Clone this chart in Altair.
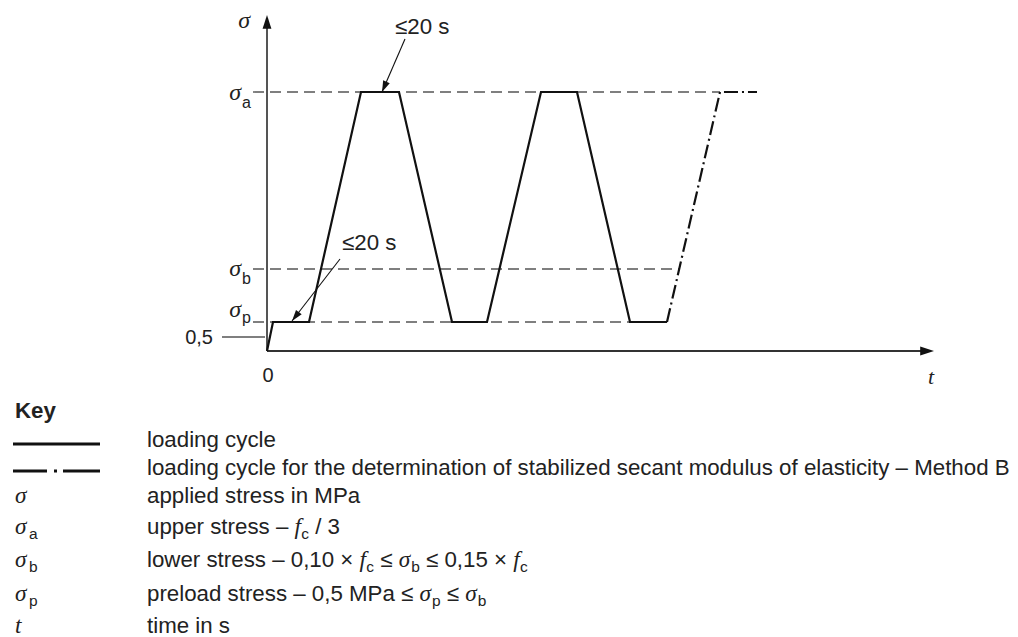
import math
import altair as alt
import pandas as pd

# ---------------- diagram values (schematic units: time t, stress s) ----------------
SIGMA_A = 25.9
SIGMA_B = 8.2
SIGMA_P = 2.9
HALF_MPA = 1.4

cycle_t = [0.0, 0.6, 4.2, 9.4, 13.2, 18.5, 22.0, 27.4, 31.0, 36.3, 40.0]
cycle_s = [0.0, SIGMA_P, SIGMA_P, SIGMA_A, SIGMA_A, SIGMA_P, SIGMA_P,
           SIGMA_A, SIGMA_A, SIGMA_P, SIGMA_P]
methodB_t = [40.0, 45.3, 49.0]
methodB_s = [SIGMA_P, SIGMA_A, SIGMA_A]

level_names = ["a", "b", "p"]
level_s = [SIGMA_A, SIGMA_B, SIGMA_P]
level_end_t = [45.3, 41.2, 36.3]
level_start_t = -1.4

half_tick_t = [-4.5, -0.2]
axis_t_end = 66.7
axis_s_end = 33.6

ann_labels = ["≤20 s", "≤20 s"]
ann_tail_t = [13.8, 7.3]
ann_tail_s = [31.2, 9.2]
ann_tip_t = [11.5, 2.5]
ann_tip_s = [SIGMA_A, 3.0]

# ---------------- key texts ----------------
key_title = "Key"
key_symbols = [None, None, ("σ", ""), ("σ", "a"), ("σ", "b"), ("σ", "p"), ("t", "")]
key_desc = [
    [("loading cycle", "n")],
    [("loading cycle for the determination of stabilized secant modulus of elasticity – Method B", "n")],
    [("applied stress in MPa", "n")],
    [("upper stress – ", "n"), ("f", "i"), ("c", "s"), (" / 3", "n")],
    [("lower stress – 0,10 × ", "n"), ("f", "i"), ("c", "s"), (" ≤ ", "n"), ("σ", "i"), ("b", "s"),
     (" ≤ 0,15 × ", "n"), ("f", "i"), ("c", "s")],
    [("preload stress – 0,5 MPa ≤ ", "n"), ("σ", "i"), ("p", "s"), (" ≤ ", "n"), ("σ", "i"), ("b", "s")],
    [("time in s", "n")],
]

# ---------------- layout / style ----------------
W = 1002
H1 = 387
H2 = 234
X_DOM = [-25.9, 74.3]
Y_DOM = [-4.6, 34.1]
SANS = "Liberation Sans"
SERIF = "Liberation Serif"
INK = "#111111"
GREY = "#555555"
TXT = "#222222"
F = 22.3
FS = 15.5
KEY_TOP = 395
ROW_CENTERS = [c - KEY_TOP for c in [438, 466, 494, 525, 558, 592, 624]]
TITLE_BASE = 416 - KEY_TOP
TXT_X = 139
SYM_X = 7
ARROW = "M0,0L-0.32,1L0.32,1Z"

xs = alt.Scale(domain=X_DOM, nice=False, zero=False)
ys = alt.Scale(domain=Y_DOM, nice=False, zero=False)


def X(f):
    return alt.X(f, type="quantitative", scale=xs, axis=None)


def Y(f):
    return alt.Y(f, type="quantitative", scale=ys, axis=None)


def heading(vx, vy):
    return (math.degrees(math.atan2(vx, -vy)) + 360) % 360


# reference dashed lines
ref_df = pd.DataFrame({"name": level_names, "s": level_s,
                       "t0": [level_start_t] * 3, "t1": level_end_t})
refs = alt.Chart(ref_df).mark_rule(color=GREY, strokeWidth=1.4, strokeDash=[11, 6]).encode(
    x=X("t0"), x2="t1", y=Y("s"))

tick_df = pd.DataFrame({"t0": [half_tick_t[0]], "t1": [half_tick_t[1]], "s": [HALF_MPA]})
tick = alt.Chart(tick_df).mark_rule(color=GREY, strokeWidth=1.4).encode(x=X("t0"), x2="t1", y=Y("s"))

# axes
yax_df = pd.DataFrame({"t": [0.0], "s0": [0.0], "s1": [axis_s_end - 1.2]})
yax = alt.Chart(yax_df).mark_rule(color=GREY, strokeWidth=2).encode(x=X("t"), y=Y("s0"), y2="s1")
xax_df = pd.DataFrame({"s": [0.0], "t0": [0.0], "t1": [axis_t_end - 1.2]})
xax = alt.Chart(xax_df).mark_rule(color="#333333", strokeWidth=2).encode(x=X("t0"), x2="t1", y=Y("s"))

# loading cycle
cyc_df = pd.DataFrame({"t": cycle_t, "s": cycle_s, "o": range(len(cycle_t))})
cyc = alt.Chart(cyc_df).mark_line(color=INK, strokeWidth=2.2).encode(
    x=X("t"), y=Y("s"), order="o:Q")
mb_df = pd.DataFrame({"t": methodB_t, "s": methodB_s, "o": range(len(methodB_t))})
mb = alt.Chart(mb_df).mark_line(color=INK, strokeWidth=2.2, strokeDash=[14, 4, 2, 4]).encode(
    x=X("t"), y=Y("s"), order="o:Q")

# annotation arrows
ann_df = pd.DataFrame({"lab": ann_labels, "t0": ann_tail_t, "s0": ann_tail_s,
                       "t1": ann_tip_t, "s1": ann_tip_s})
ann = alt.Chart(ann_df).mark_rule(color=INK, strokeWidth=1.1).encode(
    x=X("t0"), y=Y("s0"), x2="t1", y2="s1")

heads = []
for a, b, c, d in zip(ann_tail_t, ann_tail_s, ann_tip_t, ann_tip_s):
    heads.append({"t": c, "s": d, "ang": heading((c - a) * 10, -(d - b) * 10), "sz": 500})
heads.append({"t": 0.0, "s": axis_s_end, "ang": 0.0, "sz": 760})
heads.append({"t": axis_t_end, "s": 0.0, "ang": 90.0, "sz": 760})
head_df = pd.DataFrame(heads)
headm = alt.Chart(head_df).mark_point(shape=ARROW, filled=True, color=INK, opacity=1, strokeWidth=0).encode(
    x=X("t"), y=Y("s"), angle=alt.Angle("ang:Q", scale=None), size=alt.Size("sz:Q", scale=None))

ann_txt = alt.Chart(ann_df.iloc[[0]]).mark_text(font=SANS, fontSize=F, align="left", baseline="alphabetic",
                                                dx=-10, dy=-5, color=TXT).encode(
    x=X("t0"), y=Y("s0"), text="lab:N")
ann_txt2 = alt.Chart(ann_df.iloc[[1]]).mark_text(font=SANS, fontSize=F, align="left", baseline="alphabetic",
                                                 dx=2, dy=-9, color=TXT).encode(
    x=X("t0"), y=Y("s0"), text="lab:N")

# level labels
sig_dy = {"a": 8, "b": 7, "p": -5}
sub_dy = {"a": 16, "b": 15, "p": 1}
lab_layers = []
for n, s in zip(level_names, level_s):
    d = pd.DataFrame({"t": [level_start_t], "s": [s], "sig": ["σ"], "sub": [n]})
    lab_layers.append(alt.Chart(d).mark_text(font=SERIF, fontStyle="italic", fontSize=24, align="right",
                                             baseline="alphabetic", dx=-12, dy=sig_dy[n], color=TXT).encode(
        x=X("t"), y=Y("s"), text="sig:N"))
    lab_layers.append(alt.Chart(d).mark_text(font=SANS, fontSize=16, align="left",
                                             baseline="alphabetic", dx=-11, dy=sub_dy[n], color=TXT).encode(
        x=X("t"), y=Y("s"), text="sub:N"))

misc_df = pd.DataFrame({"t": [0.0], "s": [axis_s_end], "txt": ["σ"]})
lab_layers.append(alt.Chart(misc_df).mark_text(font=SERIF, fontStyle="italic", fontSize=24, align="right",
                                               baseline="alphabetic", dx=-17, dy=13, color=TXT).encode(
    x=X("t"), y=Y("s"), text="txt:N"))
half_df = pd.DataFrame({"t": [half_tick_t[0]], "s": [HALF_MPA], "txt": ["0,5"]})
lab_layers.append(alt.Chart(half_df).mark_text(font=SANS, fontSize=20, align="right",
                                               baseline="alphabetic", dx=-9, dy=7, color=TXT).encode(
    x=X("t"), y=Y("s"), text="txt:N"))
zero_df = pd.DataFrame({"t": [0.0], "s": [0.0], "txt": ["0"]})
lab_layers.append(alt.Chart(zero_df).mark_text(font=SANS, fontSize=20, align="center",
                                               baseline="alphabetic", dx=1, dy=31, color=TXT).encode(
    x=X("t"), y=Y("s"), text="txt:N"))
tl_df = pd.DataFrame({"t": [axis_t_end], "s": [0.0], "txt": ["t"]})
lab_layers.append(alt.Chart(tl_df).mark_text(font=SERIF, fontStyle="italic", fontSize=22, align="center",
                                             baseline="alphabetic", dx=-3, dy=33, color=TXT).encode(
    x=X("t"), y=Y("s"), text="txt:N"))

diagram = alt.layer(refs, tick, yax, xax, cyc, mb, ann, headm, ann_txt, ann_txt2, *lab_layers).properties(
    width=W, height=H1)

# ---------------- key ----------------
ARIAL = {' ': 278, ',': 278, '.': 278, '/': 278, '–': 556, '×': 584, '≤': 549, 'M': 833, 'P': 667, 'B': 667,
         'a': 556, 'b': 556, 'c': 500, 'd': 556, 'e': 556, 'f': 278, 'g': 556, 'h': 556, 'i': 222, 'j': 222,
         'k': 500, 'l': 222, 'm': 833, 'n': 556, 'o': 556, 'p': 556, 'q': 556, 'r': 333, 's': 500, 't': 278,
         'u': 556, 'v': 500, 'w': 722, 'x': 500, 'y': 500, 'z': 500}
ITAL = {'σ': 560, 'f': 300, 't': 300}


def width(txt, kind):
    if kind == "n":
        return sum(ARIAL.get(ch, 556) for ch in txt) / 1000 * F
    if kind == "s":
        return sum(ARIAL.get(ch, 556) for ch in txt) / 1000 * FS
    return sum(ITAL.get(ch, 500) for ch in txt) / 1000 * F


rows = []
for i, segs in enumerate(key_desc):
    yc = ROW_CENTERS[i]
    cur = TXT_X
    for txt, kind in segs:
        lead = len(txt) - len(txt.lstrip(" "))
        vis = txt.strip(" ")
        x0 = cur + width(" " * lead, kind)
        base = yc + (7 if kind != "s" else 12)
        rows.append({"x": x0, "y": base, "txt": vis, "kind": kind})
        cur += width(txt, kind)
    sym = key_symbols[i]
    if sym is not None:
        rows.append({"x": SYM_X, "y": yc + 7, "txt": sym[0], "kind": "i"})
        if sym[1]:
            rows.append({"x": SYM_X + 14, "y": yc + 12, "txt": sym[1], "kind": "s"})
key_df = pd.DataFrame(rows)

kx = alt.X("x:Q", scale=None, axis=None)
ky = alt.Y("y:Q", scale=None, axis=None)
k_norm = alt.Chart(key_df).transform_filter(alt.datum.kind == "n").mark_text(
    font=SANS, fontSize=F, align="left", baseline="alphabetic", color=TXT).encode(x=kx, y=ky, text="txt:N")
k_ital = alt.Chart(key_df).transform_filter(alt.datum.kind == "i").mark_text(
    font=SERIF, fontStyle="italic", fontSize=F + 1, align="left", baseline="alphabetic", color=TXT).encode(
    x=kx, y=ky, text="txt:N")
k_sub = alt.Chart(key_df).transform_filter(alt.datum.kind == "s").mark_text(
    font=SANS, fontSize=FS, align="left", baseline="alphabetic", color=TXT).encode(x=kx, y=ky, text="txt:N")

title_df = pd.DataFrame({"x": [SYM_X], "y": [TITLE_BASE], "txt": [key_title]})
k_title = alt.Chart(title_df).mark_text(font=SANS, fontSize=F, fontWeight="bold", align="left",
                                        baseline="alphabetic", color=TXT).encode(x=kx, y=ky, text="txt:N")

samp_df = pd.DataFrame({"x0": [5, 5], "x1": [92, 92],
                        "y": [ROW_CENTERS[0] + 4, ROW_CENTERS[1] + 3], "style": ["solid", "dashdot"]})
k_solid = alt.Chart(samp_df.iloc[[0]]).mark_rule(color=INK, strokeWidth=3).encode(
    x=alt.X("x0:Q", scale=None, axis=None), x2="x1", y=alt.Y("y:Q", scale=None, axis=None))
k_dd = alt.Chart(samp_df.iloc[[1]]).mark_rule(color=INK, strokeWidth=3, strokeDash=[34, 7, 3, 6, 60]).encode(
    x=alt.X("x0:Q", scale=None, axis=None), x2="x1", y=alt.Y("y:Q", scale=None, axis=None))

key = alt.layer(k_title, k_solid, k_dd, k_norm, k_ital, k_sub).properties(width=W, height=H2)

chart = alt.vconcat(diagram, key, spacing=0).properties(
    padding=0, background="white").configure_view(stroke="transparent", strokeWidth=0)

chart.save("out.html", embed_options={"renderer": "svg", "actions": False})
